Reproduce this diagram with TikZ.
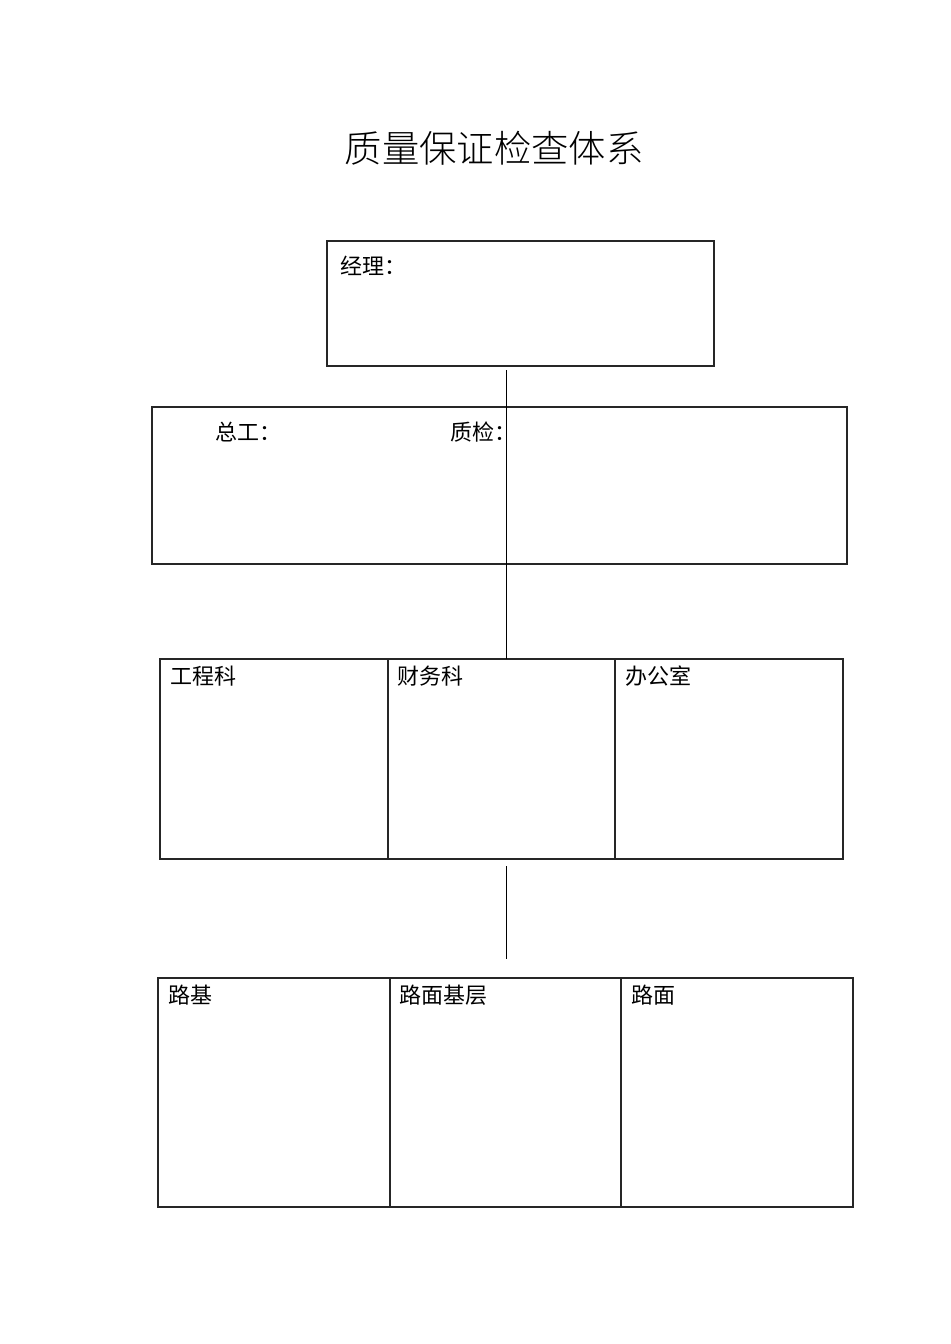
\documentclass[tikz,border=0pt]{standalone}
\usepackage{fontspec}
\usetikzlibrary{fit}
\newfontfamily\cjk{Noto Sans CJK SC}
\newfontfamily\cjktitle{Noto Sans CJK SC Light}
\begin{document}
\begin{tikzpicture}[x=0.75pt,y=-0.75pt,
  frame/.style={draw=black!85,line width=0.8pt,inner sep=0pt},
  lbl/.style={anchor=west,inner sep=0pt,font=\cjk\fontsize{16.5}{20}\selectfont},
  link/.style={draw=black,line width=0.7pt}]
\useasboundingbox[fill=white] (0,0) rectangle (950,1344);
\node[inner sep=0pt,font=\cjktitle\fontsize{28}{34}\selectfont] (title) at (494,148) {质量保证检查体系};
% manager
\node[frame,fit={(327,241)(714,366)}] (mgr) {};
\node[lbl] (mgrt) at (340,266) {经理：};
% second level
\node[frame,fit={(152,407)(847,564)}] (lead) {};
\node[lbl] (zg) at (215,432) {总工：};
\node[lbl] (zj) at (450,432) {质检：};
% third level
\node[frame,fit={(160,659)(388,859)}] (gck) {};
\node[frame,fit={(388,659)(615,859)}] (cwk) {};
\node[frame,fit={(615,659)(843,859)}] (bgs) {};
\node[lbl] at (170,676) {工程科};
\node[lbl] at (397,676) {财务科};
\node[lbl] at (625,676) {办公室};
% fourth level
\node[frame,fit={(158,978)(390,1207)}] (lj) {};
\node[frame,fit={(390,978)(621,1207)}] (lmjc) {};
\node[frame,fit={(621,978)(853,1207)}] (lm) {};
\node[lbl] at (168,995) {路基};
\node[lbl] at (399,995) {路面基层};
\node[lbl] at (631,995) {路面};
% connectors
\coordinate (a1) at (506,370);
\coordinate (a2) at (506,659);
\coordinate (b1) at (506,866);
\coordinate (b2) at (506,959);
\draw[link] (a1) -- (a2);
\draw[link] (b1) -- (b2);
\end{tikzpicture}
\end{document}
